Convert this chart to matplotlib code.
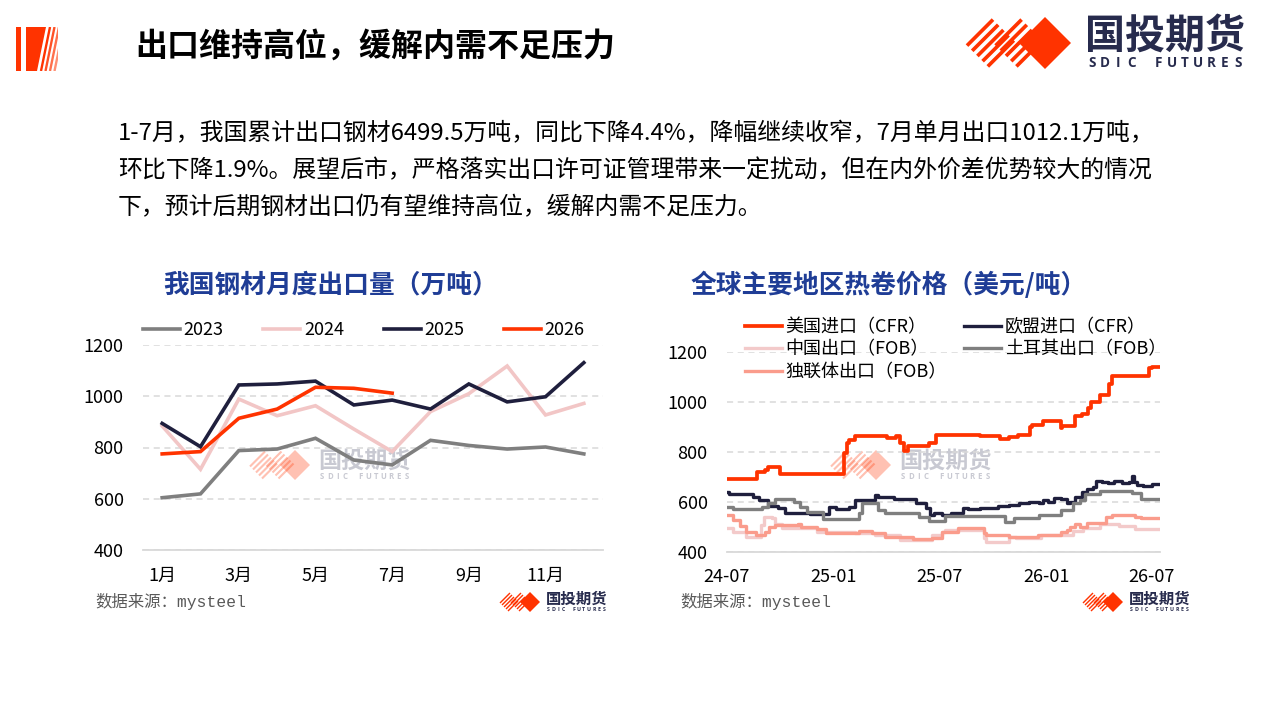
import matplotlib
matplotlib.use('Agg')
import matplotlib.pyplot as plt
import matplotlib.dates as mdates
from matplotlib.patches import Polygon, Rectangle
from matplotlib.lines import Line2D
import numpy as np
import pandas as pd

CJK = ['Noto Sans CJK SC', 'DejaVu Sans']
plt.rcParams['font.family'] = CJK

# ---------------- data: left chart (万吨) ----------------
month_labels = ['1月', '2月', '3月', '4月', '5月', '6月', '7月', '8月', '9月', '10月', '11月', '12月']
exp_2023 = [604, 619, 788, 794, 836, 751, 732, 828, 808, 794, 802, 775]
exp_2024 = [884, 715, 989, 924, 963, 872, 784, 940, 1010, 1118, 927, 972]
exp_2025 = [894, 803, 1044, 1048, 1059, 966, 985, 950, 1048, 978, 998, 1131]
exp_2026 = [775, 784, 914, 950, 1035, 1031, 1012.1]

# ---------------- data: right chart (美元/吨), change points of step series ----------------
us_dates = ['2024-07-01', '2024-08-22', '2024-09-05', '2024-09-10', '2024-09-30', '2025-01-18',
            '2025-01-24', '2025-01-27', '2025-02-07', '2025-04-03', '2025-04-17', '2025-04-25',
            '2025-05-01', '2025-05-09', '2025-06-14', '2025-06-26', '2025-09-10', '2025-10-13',
            '2025-10-30', '2025-11-13', '2025-12-05', '2025-12-08', '2025-12-27', '2026-01-26',
            '2026-01-28', '2026-02-20', '2026-03-03', '2026-03-14', '2026-03-20', '2026-04-03',
            '2026-04-19', '2026-04-25', '2026-06-27', '2026-07-03', '2026-07-16']
us_vals = [690, 720, 727, 740, 712, 793,
           833, 847, 862, 853, 862, 833,
           804, 823, 833, 867, 864, 850,
           857, 867, 900, 906, 923, 893,
           903, 943, 950, 973, 1000, 1027,
           1070, 1103, 1133, 1140, 1140]

eu_dates = ['2024-07-01', '2024-07-05', '2024-08-14', '2024-08-25', '2024-09-10', '2024-09-27',
            '2024-10-08', '2024-11-21', '2024-12-24', '2025-01-04', '2025-01-27', '2025-02-07',
            '2025-03-12', '2025-03-18', '2025-04-14', '2025-05-22', '2025-06-08', '2025-06-16',
            '2025-06-23', '2025-07-06', '2025-07-22', '2025-08-11', '2025-08-19', '2025-09-10',
            '2025-10-10', '2025-10-30', '2025-11-15', '2025-12-02', '2025-12-19', '2025-12-27',
            '2026-01-04', '2026-01-15', '2026-01-26', '2026-02-06', '2026-02-12', '2026-02-20',
            '2026-03-03', '2026-03-12', '2026-03-23', '2026-03-28', '2026-04-08', '2026-04-17',
            '2026-04-28', '2026-05-12', '2026-05-23', '2026-05-28', '2026-06-01', '2026-06-06',
            '2026-06-17', '2026-07-03', '2026-07-16']
eu_vals = [640, 630, 620, 607, 583, 573,
           556, 551, 577, 569, 580, 607,
           627, 620, 609, 593, 573, 547,
           553, 547, 553, 573, 569, 573,
           583, 587, 593, 600, 596, 607,
           600, 613, 609, 593, 600, 620,
           640, 649, 660, 684, 680, 673,
           683, 676, 680, 703, 680, 667,
           663, 670, 670]

cn_dates = ['2024-07-01', '2024-07-12', '2024-08-03', '2024-08-28', '2024-09-03', '2024-09-16',
            '2024-09-22', '2024-10-03', '2024-12-02', '2025-02-07', '2025-03-12', '2025-04-25',
            '2025-06-19', '2025-07-06', '2025-07-11', '2025-09-16', '2025-09-19', '2025-10-30',
            '2025-11-10', '2025-12-24', '2026-02-17', '2026-03-06', '2026-04-03', '2026-05-06',
            '2026-06-03', '2026-07-16']
cn_vals = [493, 480, 460, 507, 540, 533,
           511, 493, 480, 473, 467, 447,
           467, 480, 487, 453, 440, 460,
           453, 467, 484, 493, 511, 503,
           490, 490]

tr_dates = ['2024-07-01', '2024-07-12', '2024-08-30', '2024-09-10', '2024-09-21', '2024-10-24',
            '2024-11-04', '2024-11-15', '2024-12-13', '2025-02-13', '2025-02-18', '2025-03-18',
            '2025-03-29', '2025-05-28', '2025-06-14', '2025-07-11', '2025-10-23', '2025-11-06',
            '2025-12-20', '2026-01-26', '2026-02-17', '2026-03-01', '2026-03-09', '2026-04-03',
            '2026-05-28', '2026-06-14', '2026-07-16']
tr_vals = [577, 569, 577, 593, 609, 600,
           580, 560, 531, 553, 593, 567,
           553, 540, 524, 543, 520, 536,
           547, 567, 593, 607, 629, 644,
           633, 609, 609]

cis_dates = ['2024-07-01', '2024-07-12', '2024-07-23', '2024-08-03', '2024-08-20', '2024-09-05',
             '2024-09-11', '2024-09-22', '2024-10-31', '2024-11-05', '2024-12-02', '2024-12-19',
             '2025-02-13', '2025-03-07', '2025-03-29', '2025-05-17', '2025-06-19', '2025-07-06',
             '2025-08-03', '2025-09-16', '2025-09-19', '2025-10-30', '2025-12-18', '2026-01-26',
             '2026-02-06', '2026-02-12', '2026-02-20', '2026-03-01', '2026-03-12', '2026-04-14',
             '2026-04-25', '2026-06-03', '2026-06-14', '2026-07-16']
cis_vals = [547, 527, 503, 480, 467, 480,
            500, 507, 511, 497, 489, 476,
            484, 473, 460, 449, 453, 478,
            493, 473, 467, 460, 467, 480,
            487, 500, 511, 500, 513, 540,
            547, 537, 533, 533]

right_series = [
    ('美国进口（CFR）', us_dates, us_vals, '#FF3300', 2.7),
    ('欧盟进口（CFR）', eu_dates, eu_vals, '#1F1F3D', 2.4),
    ('中国出口（FOB）', cn_dates, cn_vals, '#F3CACA', 2.4),
    ('土耳其出口（FOB）', tr_dates, tr_vals, '#7F7F7F', 2.4),
    ('独联体出口（FOB）', cis_dates, cis_vals, '#FA9C8C', 2.4),
]
left_series = [
    ('2023', exp_2023, '#7F7F7F'),
    ('2024', exp_2024, '#F2C6C6'),
    ('2025', exp_2025, '#1F1F3D'),
    ('2026', exp_2026, '#FF3300'),
]

RED = '#FF3300'
NAVY = '#272B4D'
TITLE_BLUE = '#1F3D96'

W, H = 1280, 720
fig = plt.figure(figsize=(12.8, 7.2), dpi=100)
fig.patch.set_facecolor('white')

bg = fig.add_axes([0, 0, 1, 1], zorder=0)
bg.set_xlim(0, W)
bg.set_ylim(H, 0)
bg.axis('off')


def px_rect(x0, y0, x1, y1):
    return [x0 / W, 1 - y1 / H, (x1 - x0) / W, (y1 - y0) / H]


def draw_logo(ax, cx, cy, h, alpha=1.0, text_color=NAVY, text_alpha=1.0, n=5, with_text=True):
    s = h / np.sqrt(2)
    p = 2 * s / n
    lw = p * 0.5 * 0.72
    for off in (-2.1 * h, -1.0 * h):
        ccx = cx + off
        for k in range(n):
            u = -s + p * (k + 0.5)
            xa = ccx + (u - s) / np.sqrt(2)
            ya = cy + (u + s) / np.sqrt(2)
            xb = ccx + (u + s) / np.sqrt(2)
            yb = cy + (u - s) / np.sqrt(2)
            ax.add_line(Line2D([xa, xb], [ya, yb], color=RED, lw=lw, alpha=alpha,
                               solid_capstyle='butt'))
    ax.add_patch(Polygon([(cx, cy - h), (cx + h, cy), (cx, cy + h), (cx - h, cy)],
                         closed=True, facecolor=RED, edgecolor='none', alpha=alpha))
    if with_text:
        tx0 = cx + 1.54 * h
        tw = 6.15 * h
        ax.text(tx0, cy - 0.27 * h, '国投期货', fontsize=1.54 * h * 0.72, fontweight='bold',
                color=text_color, alpha=text_alpha, ha='left', va='center', family=CJK)
        sub = 'SDIC FUTURES'
        for i, ch in enumerate(sub):
            ax.text(tx0 + (i + 0.5) * tw / len(sub), cy + 0.77 * h, ch,
                    fontsize=0.52 * h * 0.72, fontweight='bold', color=text_color,
                    alpha=text_alpha, ha='center', va='center', family=['Open Sans', 'DejaVu Sans'])


# ---------------- header ----------------
bg.add_patch(Rectangle((16, 27), 5, 44, facecolor=RED, edgecolor='none'))
bg.add_patch(Polygon([(26, 27), (46, 27), (37, 71), (26, 71)], closed=True,
                     facecolor=RED, edgecolor='none'))
clip_rect = Rectangle((26, 27), 32, 44, transform=bg.transData, facecolor='none')
for i, xb in enumerate([41.0, 45.5, 50.0, 54.5]):
    ln = Line2D([xb, xb + 9], [71, 27], color=RED, lw=1.7, alpha=1.0 - 0.15 * i,
                solid_capstyle='butt')
    bg.add_line(ln)
    ln.set_clip_path(clip_rect)

bg.text(135, 47, '出口维持高位，缓解内需不足压力', fontsize=23, fontweight='bold',
        color='black', ha='left', va='center')

draw_logo(bg, 1045, 43, 26)

body = [
    '1-7月，我国累计出口钢材6499.5万吨，同比下降4.4%，降幅继续收窄，7月单月出口1012.1万吨，',
    '环比下降1.9%。展望后市，严格落实出口许可证管理带来一定扰动，但在内外价差优势较大的情况',
    '下，预计后期钢材出口仍有望维持高位，缓解内需不足压力。',
]
for i, line in enumerate(body):
    bg.text(118, 134 + 37 * i, line, fontsize=17.2, color='black', ha='left', va='center')

# chart titles
bg.text(331, 285, '我国钢材月度出口量（万吨）', fontsize=18.5, fontweight='bold',
        color=TITLE_BLUE, ha='center', va='center')
bg.text(889, 285, '全球主要地区热卷价格（美元/吨）', fontsize=18.5, fontweight='bold',
        color=TITLE_BLUE, ha='center', va='center')

# watermarks
draw_logo(bg, 295, 465, 15, alpha=0.3, text_color=NAVY, text_alpha=0.25)
draw_logo(bg, 876, 465, 15, alpha=0.3, text_color=NAVY, text_alpha=0.25)

# sources + small logos
src_family = ['Liberation Mono', 'Noto Sans CJK SC']
bg.text(95, 601, '数据来源：mysteel', fontsize=11.8, color='#595959', ha='left', va='center',
        family=src_family)
bg.text(680, 602, '数据来源：mysteel', fontsize=11.8, color='#595959', ha='left', va='center',
        family=src_family)
draw_logo(bg, 530, 602, 10)
draw_logo(bg, 1113, 602, 10)

GRID = '#D9D9D9'


def style_axes(ax):
    ax.set_facecolor('none')
    for sp in ['top', 'right', 'left']:
        ax.spines[sp].set_visible(False)
    ax.spines['bottom'].set_color(GRID)
    ax.spines['bottom'].set_linewidth(1.3)
    ax.yaxis.grid(True, color=GRID, linestyle=(0, (4, 3)), linewidth=1.1)
    ax.set_axisbelow(True)
    ax.tick_params(axis='both', length=0, labelsize=13, colors='#000000')
    ax.tick_params(axis='y', pad=14)
    ax.tick_params(axis='x', pad=12)


# ---------------- left chart ----------------
ax1 = fig.add_axes(px_rect(143, 345, 603, 550), zorder=2)
style_axes(ax1)
xpos = np.arange(1, 13)
handles1 = []
for name, vals, col in left_series:
    ln, = ax1.plot(xpos[:len(vals)], vals, color=col, lw=2.6, label=name,
                   solid_joinstyle='miter')
    handles1.append(ln)
ax1.set_xlim(0.5, 12.5)
ax1.set_ylim(400, 1200)
ax1.set_yticks([400, 600, 800, 1000, 1200])
ax1.set_xticks(xpos[::2])
ax1.set_xticklabels(month_labels[::2])
leg1 = ax1.legend(handles=handles1, ncol=4, loc='center left',
                  bbox_to_anchor=(143 / W, 1 - 330 / H), bbox_transform=fig.transFigure,
                  frameon=False, fontsize=13, handlelength=2.05, handletextpad=0.2,
                  columnspacing=2.2, borderpad=0, borderaxespad=0)

# ---------------- right chart ----------------
ax2 = fig.add_axes(px_rect(727, 351.7, 1160, 551.7), zorder=2)
style_axes(ax2)
lines2 = {}
for name, d, v, col, lw in right_series:
    ln, = ax2.step(pd.to_datetime(d), v, where='post', color=col, lw=lw, label=name)
    lines2[name] = ln
ax2.set_xlim(pd.Timestamp('2024-07-01'), pd.Timestamp('2026-07-16'))
ax2.set_ylim(400, 1200)
ax2.set_yticks([400, 600, 800, 1000, 1200])
ax2.set_xticks(pd.to_datetime(['2024-07-01', '2025-01-01', '2025-07-01', '2026-01-01', '2026-07-01']))
ax2.xaxis.set_major_formatter(mdates.DateFormatter('%y-%m'))
order = ['美国进口（CFR）', '中国出口（FOB）', '独联体出口（FOB）', '欧盟进口（CFR）', '土耳其出口（FOB）']
leg2 = ax2.legend(handles=[lines2[k] for k in order], ncol=2, loc='upper left',
                  bbox_to_anchor=(745 / W, 1 - 318 / H), bbox_transform=fig.transFigure,
                  frameon=False, fontsize=13, handlelength=2.05, handletextpad=0.2,
                  columnspacing=0.95, labelspacing=0.26, borderpad=0, borderaxespad=0)
for t in leg2.get_texts():
    t.set_color('#000000')

fig.savefig('out.png', dpi=100, facecolor='white')
